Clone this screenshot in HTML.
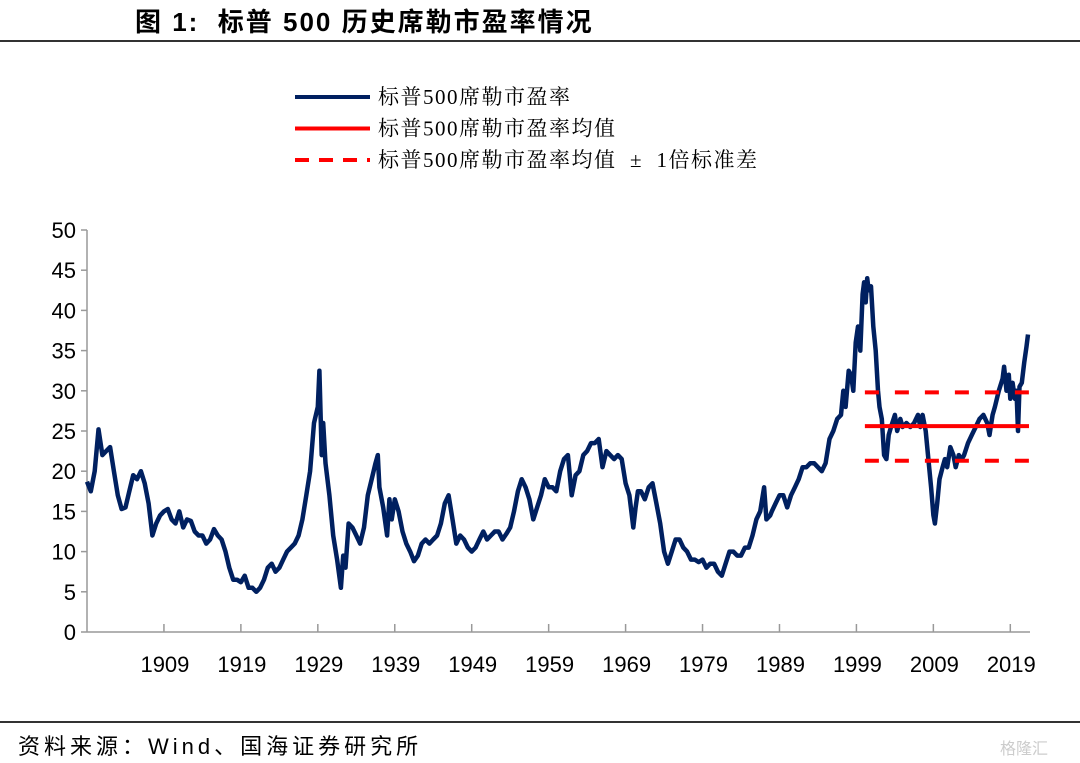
<!DOCTYPE html>
<html><head><meta charset="utf-8">
<style>
html,body{margin:0;padding:0;background:#fff;}
body{width:1080px;height:763px;position:relative;overflow:hidden;font-family:"Liberation Sans","Noto Sans CJK SC",sans-serif;}
#title{position:absolute;left:135px;top:2px;font-size:26px;letter-spacing:2px;font-weight:bold;color:#000;font-family:"Liberation Sans","Noto Sans CJK SC",sans-serif;white-space:pre;}
.rule{position:absolute;left:0;width:1080px;height:2px;background:#333;}
#source{position:absolute;left:18px;top:729px;font-size:22px;letter-spacing:4px;color:#000;font-family:"Liberation Sans","Noto Sans CJK SC",sans-serif;white-space:pre;}
#wm{position:absolute;left:1000px;top:735px;font-size:16px;color:#ccc;}
svg{position:absolute;left:0;top:0;}
</style></head>
<body>
<div id="title">图 1:  标普 500 历史席勒市盈率情况</div>
<div class="rule" style="top:40px"></div>
<div class="rule" style="top:721px"></div>
<div id="source">资料来源：Wind、国海证券研究所</div>
<div id="wm">格隆汇</div>
<svg id="chart" width="1080" height="763"></svg>
<script>
const yTicks=[0,5,10,15,20,25,30,35,40,45,50];
const xTickLabels=[1909,1919,1929,1939,1949,1959,1969,1979,1989,1999,2009,2019];
const meanValue=25.6;
const upperBand=29.8;
const lowerBand=21.3;
const bandStart=2000.1;
const years=[1899.0,1899.5,1900,1900.5,1901,1901.5,1902,1902.5,1903,1903.5,1904,1904.5,1905,1905.5,1906,1906.5,1907,1907.5,1908,1908.5,1909,1909.5,1910,1910.5,1911,1911.5,1912,1912.5,1913,1913.5,1914,1914.5,1915,1915.5,1916,1916.5,1917,1917.5,1918,1918.5,1919,1919.5,1920,1920.5,1921,1921.5,1922,1922.5,1923,1923.5,1924,1924.5,1925,1925.5,1926,1926.5,1927,1927.5,1928,1928.5,1929,1929.2,1929.5,1929.7,1930,1930.5,1931,1931.5,1932,1932.3,1932.6,1933,1933.5,1934,1934.5,1935,1935.5,1936,1936.5,1936.8,1937,1937.5,1938,1938.3,1938.6,1939,1939.5,1940,1940.5,1941,1941.5,1942,1942.5,1943,1943.5,1944,1944.5,1945,1945.5,1946,1946.5,1947,1947.5,1948,1948.5,1949,1949.5,1950,1950.5,1951,1951.5,1952,1952.5,1953,1953.5,1954,1954.5,1955,1955.5,1956,1956.5,1957,1957.5,1958,1958.5,1959,1959.5,1960,1960.5,1961,1961.5,1962,1962.5,1963,1963.5,1964,1964.5,1965,1965.5,1966,1966.5,1967,1967.5,1968,1968.5,1969,1969.5,1970,1970.3,1970.6,1971,1971.5,1972,1972.5,1973,1973.5,1974,1974.5,1975,1975.5,1976,1976.5,1977,1977.5,1978,1978.5,1979,1979.5,1980,1980.5,1981,1981.5,1982,1982.5,1983,1983.5,1984,1984.5,1985,1985.5,1986,1986.5,1987,1987.3,1987.8,1988,1988.5,1989,1989.5,1990,1990.5,1991,1991.5,1992,1992.5,1993,1993.5,1994,1994.5,1995,1995.5,1996,1996.5,1997,1997.3,1997.6,1998,1998.3,1998.6,1998.9,1999.2,1999.5,1999.8,2000,2000.2,2000.4,2000.6,2000.9,2001.2,2001.5,2001.8,2002,2002.3,2002.6,2002.9,2003.2,2003.5,2004,2004.3,2004.7,2005,2005.5,2006,2006.5,2007,2007.3,2007.6,2008,2008.3,2008.7,2009,2009.2,2009.5,2009.8,2010.2,2010.5,2010.8,2011.2,2011.6,2011.9,2012.3,2012.7,2013,2013.5,2014,2014.5,2015,2015.5,2016,2016.3,2016.7,2017,2017.5,2018,2018.2,2018.5,2018.8,2019,2019.3,2019.6,2019.8,2020,2020.2,2020.5,2020.8,2021.1,2021.3];
const cape=[18.7,17.5,20,25.2,22,22.5,23,20,17,15.3,15.5,17.5,19.5,19,20,18.5,16,12,13.5,14.5,15,15.3,14,13.5,15,13,14,13.8,12.5,12,12,11,11.5,12.8,12,11.5,10,8,6.5,6.5,6.2,7,5.5,5.5,5,5.5,6.5,8,8.5,7.5,8,9,10,10.5,11,12,14,17,20,26,28,32.5,22,26,21,17,12,9,5.5,9.5,8,13.5,13,12,11,13,17,19,21,22,18,15.5,12,16.5,14,16.5,15,12.5,11,10,8.8,9.5,11,11.5,11,11.5,12,13.5,16,17,14,11,12,11.5,10.5,10,10.5,11.5,12.5,11.5,12,12.5,12.5,11.5,12.2,13,15,17.5,19,18,16.5,14,15.5,17,19,18,18,17.5,20,21.5,22,17,19.5,20,22,22.5,23.5,23.5,24,20.5,22.5,22,21.5,22,21.5,18.5,17,13,15.5,17.5,17.5,16.5,18,18.5,16,13.5,10,8.5,10,11.5,11.5,10.5,10,9,9,8.7,9,8,8.5,8.5,7.5,7,8.5,10,10,9.5,9.5,10.5,10.5,12,14,15,18,14,14.5,15,16,17,17,15.5,17,18,19,20.5,20.5,21,21,20.5,20,21,24,25,26.5,27,30,28,32.5,32,30,36,38,35,42,43.5,41,44,42.5,43,38,35,30,28,26.5,22,21.5,24.5,25.5,27,25,26.5,25.5,26,25.5,26,27,25.5,27,25,22,18,14.5,13.5,16,19,20.5,21.5,20.5,23,22,20.5,22,21.5,22,23.5,24.5,25.5,26.5,27,26,24.5,27,28,30,31.5,33,30,32,29,31,29,30,25,30.5,31,33.5,35.5,37];

const NS="http://www.w3.org/2000/svg";
const svg=document.getElementById('chart');
const X0=87,X1=1028,Y0=632,Y1=230,T0=1899,T1=2021.3,V1=50;
function xs(t){return X0+(t-T0)*(X1-X0)/(T1-T0);}
function ys(v){return Y0-v*(Y0-Y1)/V1;}
function mk(tag,attrs){const e=document.createElementNS(NS,tag);for(const k in attrs)e.setAttribute(k,attrs[k]);svg.appendChild(e);return e;}

let ax=mk('line',{x1:X0,y1:Y0,x2:X1+2,y2:Y0,stroke:'#999','stroke-width':1.5});


let ay=mk('line',{x1:X0,y1:Y1,x2:X0,y2:Y0,stroke:'#999','stroke-width':1.5});


yTicks.forEach(v=>{
  const tk=mk('line',{x1:X0-6,y1:ys(v),x2:X0,y2:ys(v),stroke:'#999','stroke-width':1.5});
  
  
  const t=mk('text',{x:76,y:ys(v)+8,'text-anchor':'end','font-size':22,fill:'#000','font-family':'Liberation Sans, sans-serif'});
  t.textContent=v;
  
  
});
xTickLabels.forEach(yr=>{
  const x=xs(yr);
  const tk=mk('line',{x1:x,y1:Y0,x2:x,y2:Y0-8,stroke:'#999','stroke-width':1.5});
  
  
  const t=mk('text',{x:x+1,y:672,'text-anchor':'middle','font-size':22,fill:'#000','font-family':'Liberation Sans, sans-serif'});
  t.textContent=yr;
  
  
});

let d='';
years.forEach((t,i)=>{d+=(i?'L':'M')+xs(t).toFixed(1)+','+ys(cape[i]).toFixed(1);});
const line=mk('path',{d:d,fill:'none',stroke:'#002060','stroke-width':4.5,'stroke-linejoin':'round'});



const xb0=xs(bandStart),xb1=xs(T1)+1;
const m=mk('line',{x1:xb0,y1:ys(meanValue),x2:xb1,y2:ys(meanValue),stroke:'#ff0000','stroke-width':4});


[[upperBand,'upper-band-line'],[lowerBand,'lower-band-line']].forEach(([v,n])=>{
  const l=mk('line',{x1:xb0,y1:ys(v),x2:xb1,y2:ys(v),stroke:'#ff0000','stroke-width':4,'stroke-dasharray':'14,16'});
  
  
});

const leg=[['标普500席勒市盈率','#002060',null,'legend-cape'],['标普500席勒市盈率均值','#ff0000',null,'legend-mean'],['标普500席勒市盈率均值  ±  1倍标准差','#ff0000','14,10','legend-band']];
leg.forEach((e,i)=>{
  const y=97+i*31.5;
  const a={x1:295,y1:y,x2:370,y2:y,stroke:e[1],'stroke-width':4};
  if(e[2])a['stroke-dasharray']=e[2];
  const l=mk('line',a);
  
  
  const t=mk('text',{x:378,y:y+7,'font-size':21,'letter-spacing':'1.5','fill':'#000','font-family':'Liberation Serif, Noto Serif CJK SC, serif'});
  t.setAttribute('xml:space','preserve');
  t.style.whiteSpace='pre';
  t.textContent=e[0];
  
  
});
</script>
</body></html>
